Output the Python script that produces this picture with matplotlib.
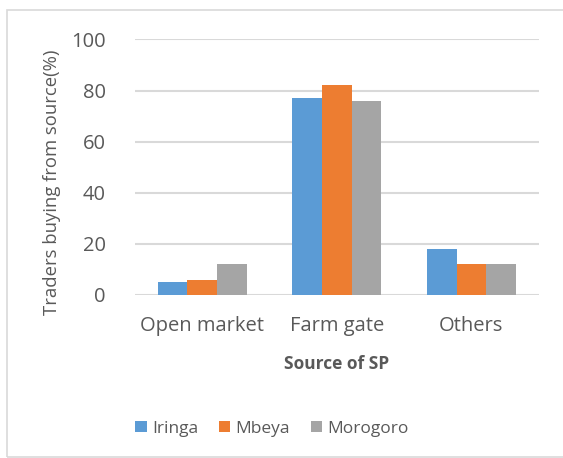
import numpy as np
from matplotlib import pyplot as plt
from matplotlib.patches import Rectangle

categories = ["Open market", "Farm gate", "Others"]
regions = ["Iringa", "Mbeya", "Morogoro"]
iringa = [5, 77, 18]
mbeya = [6, 82, 12]
morogoro = [12, 76, 12]
colors = ["#5B9BD5", "#ED7D31", "#A5A5A5"]

plt.rcParams['font.family'] = ['Open Sans', 'DejaVu Sans']

fig = plt.figure(figsize=(5.63, 4.58), dpi=100)
ax = fig.add_axes([0.2398, 0.356, 0.717, 0.558])

x = np.arange(len(categories))
w = 0.221
for i, (vals, name) in enumerate(zip([iringa, mbeya, morogoro], regions)):
    ax.bar(x + (i - 1) * w, vals, w, color=colors[i], label=name, zorder=3)

ax.set_xlim(-0.5, 2.5)
ax.set_ylim(0, 100)
ax.set_yticks(range(0, 101, 20))
ax.yaxis.grid(True, color="#D9D9D9", linewidth=1.5, zorder=0)
for s in ax.spines.values():
    s.set_visible(False)
ax.tick_params(length=0, colors="#595959", labelsize=14.5)
ax.tick_params(axis='y', pad=21)
ax.tick_params(axis='x', pad=15)
ax.set_xticks(x)
ax.set_xticklabels(categories)

ax.set_ylabel("Traders buying from source(%)", fontsize=13.3, color="#595959")
ax.yaxis.set_label_coords(-0.183, 0.442)
ax.set_xlabel("Source of SP", fontsize=12.5, fontweight='bold', color="#595959", labelpad=14)

ax.legend(loc='center', bbox_to_anchor=(0.483, 0.064), ncol=3, frameon=False,
          fontsize=12.5, handlelength=0.65, handleheight=0.65, handletextpad=0.3,
          columnspacing=1.2, labelcolor="#595959", bbox_transform=fig.transFigure)

fig.patches.append(Rectangle((7 / 563, 1 - 457 / 458), 1.2, (457 - 10) / 458,
                             transform=fig.transFigure, fill=False,
                             edgecolor="#D9D9D9", linewidth=1.2))

plt.savefig("out.png", dpi=100)
